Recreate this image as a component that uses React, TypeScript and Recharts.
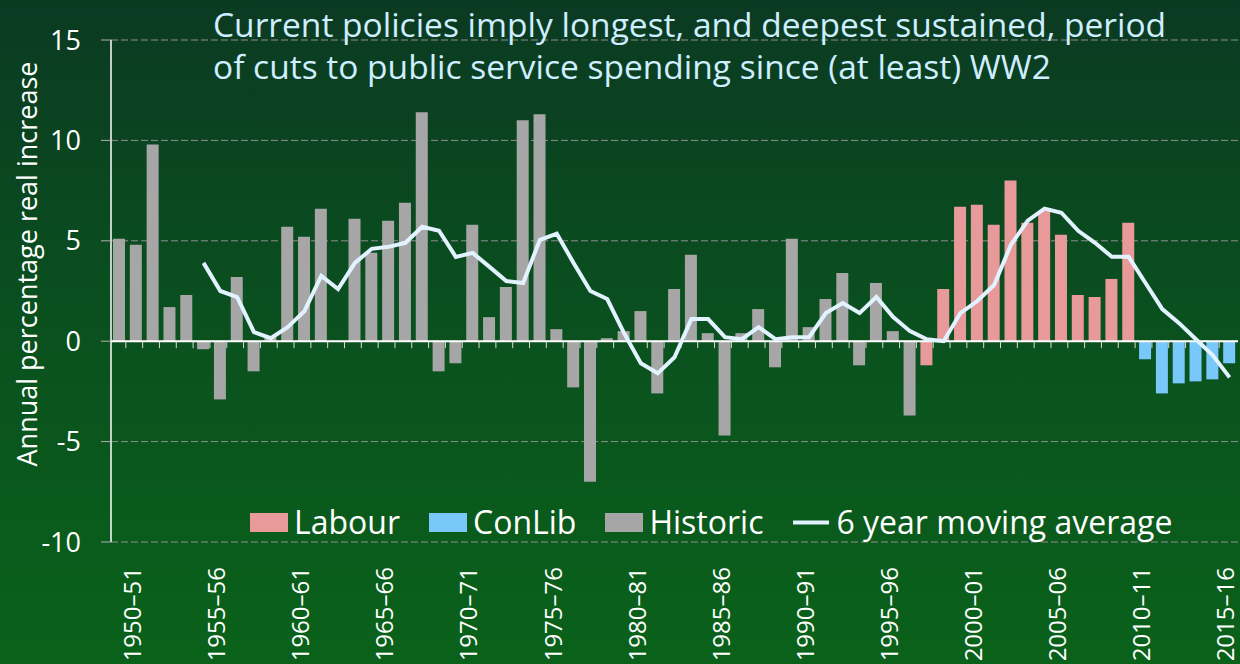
import React from 'react'
import { ComposedChart, Bar, Line, XAxis, YAxis, CartesianGrid, ReferenceLine, Legend } from 'recharts'

const years: string[] = [
  '1949–50', '1950–51', '1951–52', '1952–53', '1953–54', '1954–55', '1955–56', '1956–57', '1957–58', '1958–59',
  '1959–60', '1960–61', '1961–62', '1962–63', '1963–64', '1964–65', '1965–66', '1966–67', '1967–68', '1968–69',
  '1969–70', '1970–71', '1971–72', '1972–73', '1973–74', '1974–75', '1975–76', '1976–77', '1977–78', '1978–79',
  '1979–80', '1980–81', '1981–82', '1982–83', '1983–84', '1984–85', '1985–86', '1986–87', '1987–88', '1988–89',
  '1989–90', '1990–91', '1991–92', '1992–93', '1993–94', '1994–95', '1995–96', '1996–97', '1997–98', '1998–99',
  '1999–00', '2000–01', '2001–02', '2002–03', '2003–04', '2004–05', '2005–06', '2006–07', '2007–08', '2008–09',
  '2009–10', '2010–11', '2011–12', '2012–13', '2013–14', '2014–15', '2015–16',
]

// annual % real change in public service spending
const change: number[] = [
  5.1, 4.8, 9.8, 1.7, 2.3, -0.4, -2.9, 3.2, -1.5, 0.2,
  5.7, 5.2, 6.6, 0.0, 6.1, 4.4, 6.0, 6.9, 11.4, -1.5,
  -1.1, 5.8, 1.2, 2.7, 11.0, 11.3, 0.6, -2.3, -7.0, 0.15,
  0.5, 1.5, -2.6, 2.6, 4.3, 0.4, -4.7, 0.4, 1.6, -1.3,
  5.1, 0.7, 2.1, 3.4, -1.2, 2.9, 0.5, -3.7, -1.2, 2.6,
  6.7, 6.8, 5.8, 8.0, 5.9, 6.5, 5.3, 2.3, 2.2, 3.1,
  5.9, -0.9, -2.6, -2.1, -2.0, -1.9, -1.1,
]

// 6 year moving average, starts with the 6th year
const movingAvg: (number | null)[] = [
  null, null, null, null, null, 3.9, 2.5, 2.2, 0.45, 0.15,
  0.7, 1.5, 3.25, 2.6, 3.9, 4.6, 4.7, 4.9, 5.7, 5.5,
  4.2, 4.4, 3.7, 3.0, 2.9, 5.05, 5.35, 3.9, 2.5, 2.1,
  0.4, -1.1, -1.6, -0.8, 1.1, 1.1, 0.2, 0.1, 0.7, 0.1,
  0.2, 0.2, 1.4, 1.9, 1.4, 2.2, 1.2, 0.5, 0.1, 0.0,
  1.4, 2.0, 2.8, 4.8, 6.0, 6.6, 6.4, 5.5, 4.9, 4.2,
  4.2, 2.9, 1.6, 0.9, 0.1, -0.7, -1.8,
]

const labourFrom = '1997–98'
const conLibFrom = '2010–11'
const yTicks: number[] = [-10, -5, 0, 5, 10, 15]
const legendOrder: string[] = ['Labour', 'ConLib', 'Historic', '6 year moving average']

const colors = {
  labour: '#e89a9a',
  conlib: '#78c8fa',
  historic: '#a6a6a6',
  line: '#e2f2ff',
}

const labourIdx = years.indexOf(labourFrom)
const conLibIdx = years.indexOf(conLibFrom)

const data = years.map((year, i) => ({
  year,
  historic: i < labourIdx ? change[i] : null,
  labour: i >= labourIdx && i < conLibIdx ? change[i] : null,
  conlib: i >= conLibIdx ? change[i] : null,
  avg: movingAvg[i],
}))

const YearTick = (props: any) => {
  const { x, y, payload, index } = props
  if (index % 5 !== 1) return null
  return (
    <text
      x={x}
      y={y + 23}
      transform={`rotate(-90, ${x}, ${y + 23})`}
      textAnchor="end"
      dy="0.2em"
      fill="#ffffff"
      fontSize={24}
    >
      {payload.value}
    </text>
  )
}

const ZeroLine = (props: any) => {
  const { x1, x2, y1 } = props
  const step = (x2 - x1) / years.length
  return (
    <g>
      {years.slice(1).map((_, k) => {
        const tx = x1 + (k + 1) * step - 2
        return <line key={k} x1={tx} x2={tx} y1={y1} y2={y1 + 7} stroke="#d9d9d9" strokeWidth={1} />
      })}
      <line x1={x1} x2={x2} y1={y1} y2={y1} stroke="#ffffff" strokeWidth={2} />
    </g>
  )
}

const LegendBox = (props: any) => {
  const items = [...(props.payload || [])].sort(
    (a: any, b: any) => legendOrder.indexOf(a.value) - legendOrder.indexOf(b.value)
  )
  return (
    <div style={{ display: 'flex', alignItems: 'center', height: 44 }}>
      {items.map((item: any) => (
        <div key={item.value} style={{ display: 'flex', alignItems: 'center', marginRight: 29 }}>
          <svg width={38} height={19} style={{ marginRight: 6 }}>
            {item.type === 'line' ? (
              <line x1={1} x2={37} y1={9.5} y2={9.5} stroke={colors.line} strokeWidth={4} />
            ) : (
              <rect x={0} y={0} width={38} height={19} fill={item.color} />
            )}
          </svg>
          <span style={{ color: '#ffffff', fontSize: 32, lineHeight: '44px' }}>{item.value}</span>
        </div>
      ))}
    </div>
  )
}

const App: React.FC = () => {
  return (
    <div
      style={{
        position: 'absolute',
        left: 0,
        top: 0,
        width: 1240,
        height: 664,
        overflow: 'hidden',
        background: 'linear-gradient(180deg, #0b3a22 0%, #0a4f1f 45%, #0a621a 100%)',
        fontFamily: '"Open Sans", sans-serif',
      }}
    >
      <ComposedChart
        width={1240}
        height={664}
        data={data}
        stackOffset="sign"
        margin={{ top: 40, right: 2, bottom: 0, left: 0 }}
      >
        <CartesianGrid vertical={false} stroke="#8f8f8f" strokeDasharray="7 3" />
        <XAxis
          dataKey="year"
          interval={0}
          height={122}
          axisLine={false}
          tickLine={false}
          tickSize={0}
          tick={<YearTick />}
        />
        <YAxis
          width={111}
          domain={[-10, 15]}
          ticks={yTicks}
          interval={0}
          axisLine={{ stroke: '#ffffff', strokeWidth: 1.5 }}
          tickLine={{ stroke: '#b0b0b0' }}
          tickSize={10}
          tickMargin={20}
          tick={{ fill: '#ffffff', fontSize: 27 }}
        />
        <Bar dataKey="labour" name="Labour" stackId="a" fill={colors.labour} barSize={12} isAnimationActive={false} />
        <Bar dataKey="conlib" name="ConLib" stackId="a" fill={colors.conlib} barSize={12} isAnimationActive={false} />
        <Bar dataKey="historic" name="Historic" stackId="a" fill={colors.historic} barSize={12} isAnimationActive={false} />
        <ReferenceLine y={0} shape={<ZeroLine />} />
        <Line
          dataKey="avg"
          name="6 year moving average"
          type="linear"
          stroke={colors.line}
          strokeWidth={4}
          dot={false}
          isAnimationActive={false}
        />
        <Legend
          layout="horizontal"
          verticalAlign="middle"
          align="center"
          wrapperStyle={{ top: 500, left: 250, width: 'auto' }}
          content={<LegendBox />}
        />
      </ComposedChart>
      <div
        style={{
          position: 'absolute',
          left: 213,
          top: 3,
          fontSize: 33.5,
          lineHeight: '42px',
          color: '#cfeeff',
          whiteSpace: 'nowrap',
        }}
      >
        Current policies imply longest, and deepest sustained, period
        <br />
        of cuts to public service spending since (at least) WW2
      </div>
      <div
        style={{
          position: 'absolute',
          left: 27 - 230,
          top: 264 - 18,
          width: 460,
          height: 36,
          lineHeight: '36px',
          textAlign: 'center',
          transform: 'rotate(-90deg)',
          color: '#ffffff',
          fontSize: 27,
          whiteSpace: 'nowrap',
        }}
      >
        Annual percentage real increase
      </div>
    </div>
  )
}

export default App
